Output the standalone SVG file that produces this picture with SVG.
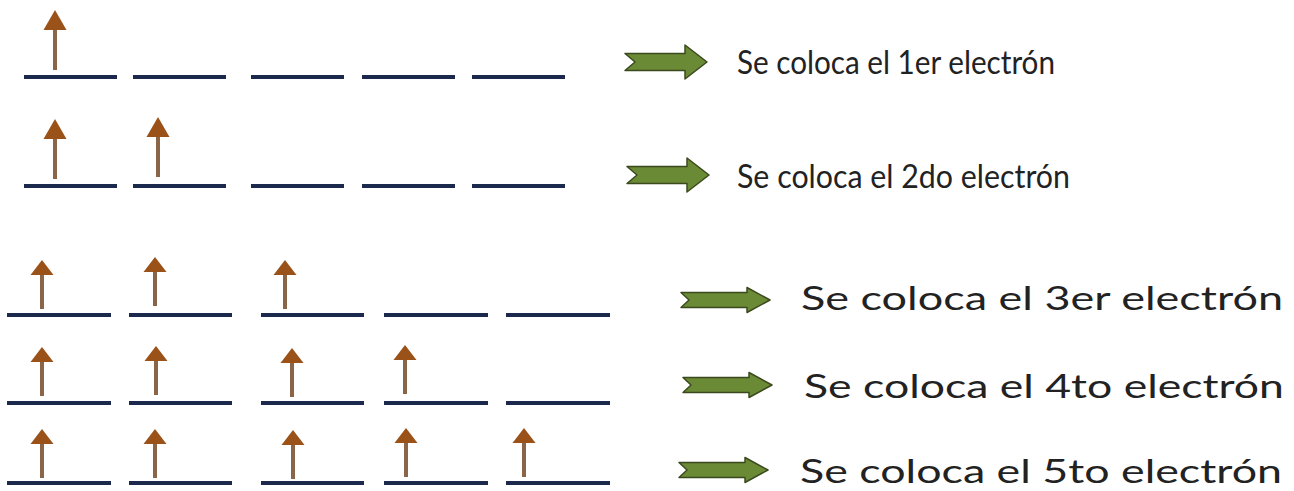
<svg xmlns="http://www.w3.org/2000/svg" width="1294" height="491" viewBox="0 0 1294 491">
  <style>
    .lvl { stroke: #1b2a4c; stroke-width: 4; }
    .shaft { stroke: #8a6547; stroke-width: 4; }
    .head { fill: #9a5218; }
    .garrow { fill: #6b8a35; stroke: #3a4a1e; stroke-width: 1.5; stroke-linejoin: round; }
    .lbl { font-family: Lato, "Open Sans", "Liberation Sans", sans-serif; font-size: 32px; fill: #222222; }
  </style>
  <defs>
    <path id="gA" class="garrow" d="M0,-8.5 L60,-8.5 L60,-17 L82,0 L60,17 L60,8.5 L0,8.5 L10,0 Z"/>
    <path id="gB" class="garrow" d="M0,-7.5 L66,-7.5 L66,-12.5 L89,0 L66,12.5 L66,7.5 L0,7.5 L8,0 Z"/>
    <g id="eA"><line class="shaft" x1="0" y1="18" x2="0" y2="60"/><polygon class="head" points="0,0 11.5,20 -11.5,20"/></g>
    <g id="eB"><line class="shaft" x1="0" y1="13" x2="0" y2="49"/><polygon class="head" points="0,0 11.5,15 -11.5,15"/></g>
  </defs>

  <g id="row1">
    <g class="lvl">
      <line x1="24" y1="77" x2="117" y2="77"/><line x1="133" y1="77" x2="226" y2="77"/><line x1="251" y1="77" x2="344" y2="77"/><line x1="362" y1="77" x2="455" y2="77"/><line x1="472" y1="77" x2="565" y2="77"/>
    </g>
    <use href="#eA" x="55" y="10"/>
    <text class="lbl" x="737" y="74" textLength="318" lengthAdjust="spacingAndGlyphs">Se coloca el 1er electrón</text>
  </g>

  <g id="row2">
    <g class="lvl">
      <line x1="24" y1="186" x2="117" y2="186"/><line x1="133" y1="186" x2="226" y2="186"/><line x1="251" y1="186" x2="344" y2="186"/><line x1="362" y1="186" x2="455" y2="186"/><line x1="472" y1="186" x2="565" y2="186"/>
    </g>
    <use href="#eA" x="55" y="119"/>
    <use href="#eA" x="158" y="117"/>
    <text class="lbl" x="737" y="188" textLength="333" lengthAdjust="spacingAndGlyphs">Se coloca el 2do electrón</text>
  </g>

  <g id="row3">
    <g class="lvl">
      <line x1="7" y1="315" x2="111" y2="315"/><line x1="129" y1="315" x2="232" y2="315"/><line x1="261" y1="315" x2="364" y2="315"/><line x1="384" y1="315" x2="488" y2="315"/><line x1="506" y1="315" x2="610" y2="315"/>
    </g>
    <use href="#eB" x="42" y="260"/>
    <use href="#eB" x="155" y="257"/>
    <use href="#eB" x="285" y="260"/>
    <text class="lbl" x="801" y="310" textLength="482" lengthAdjust="spacingAndGlyphs">Se coloca el 3er electrón</text>
  </g>

  <g id="row4">
    <g class="lvl">
      <line x1="7" y1="403" x2="111" y2="403"/><line x1="129" y1="403" x2="232" y2="403"/><line x1="261" y1="403" x2="364" y2="403"/><line x1="384" y1="403" x2="488" y2="403"/><line x1="506" y1="403" x2="610" y2="403"/>
    </g>
    <use href="#eB" x="42" y="347"/>
    <use href="#eB" x="156" y="346"/>
    <use href="#eB" x="292" y="348"/>
    <use href="#eB" x="405" y="345"/>
    <text class="lbl" x="804" y="398" textLength="480" lengthAdjust="spacingAndGlyphs">Se coloca el 4to electrón</text>
  </g>

  <g id="row5">
    <g class="lvl">
      <line x1="7" y1="483" x2="111" y2="483"/><line x1="129" y1="483" x2="232" y2="483"/><line x1="261" y1="483" x2="364" y2="483"/><line x1="384" y1="483" x2="488" y2="483"/><line x1="506" y1="483" x2="610" y2="483"/>
    </g>
    <use href="#eB" x="42" y="429"/>
    <use href="#eB" x="155" y="429"/>
    <use href="#eB" x="293" y="430"/>
    <use href="#eB" x="406" y="428"/>
    <use href="#eB" x="524" y="428"/>
    <text class="lbl" x="800" y="483" textLength="482" lengthAdjust="spacingAndGlyphs">Se coloca el 5to electrón</text>
  </g>

  <g id="connectors">
    <use href="#gA" x="625" y="62"/>
    <use href="#gA" x="627" y="175"/>
    <use href="#gB" x="681" y="300"/>
    <use href="#gB" x="683" y="385"/>
    <use href="#gB" x="679" y="470"/>
  </g>
</svg>
